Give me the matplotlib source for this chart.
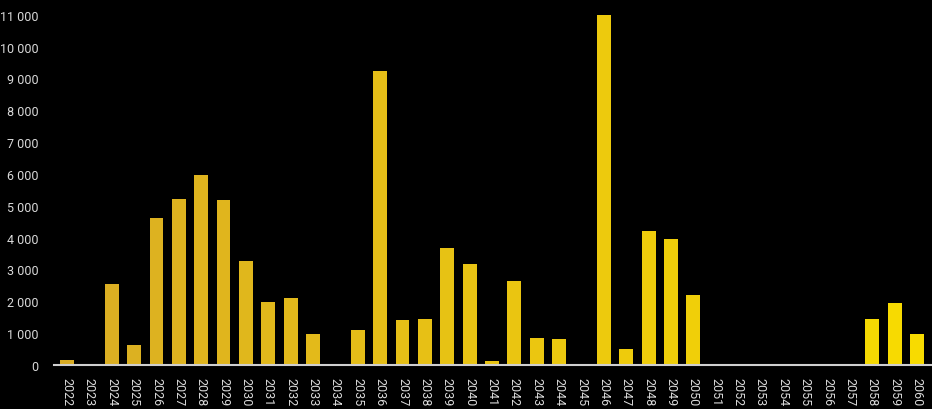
import numpy as np
import matplotlib
matplotlib.use('Agg')
import matplotlib.pyplot as plt
from matplotlib.colors import to_rgb
from matplotlib.ticker import FuncFormatter

# DATA
years = list(range(2022, 2061))
values = [
    170, 0, 2540, 620, 4620, 5200, 5980, 5170, 3270, 1980,   # 2022-2031
    2100, 970, 0, 1100, 9240, 1410, 1450, 3680, 3180, 130,    # 2032-2041
    2640, 840, 810, 0, 11000, 500, 4220, 3970, 2200, 0,       # 2042-2051
    0, 0, 0, 0, 0, 0, 1450, 1950, 970,                        # 2052-2060
]
y_ticks = list(range(0, 11001, 1000))

# STYLE
BG = '#000000'
TEXT = '#d9d9d9'
C_LEFT = np.array(to_rgb('#DAAD24'))
C_RIGHT = np.array(to_rgb('#F8DB00'))

plt.rcParams['font.family'] = ['Roboto', 'DejaVu Sans']

fig = plt.figure(figsize=(9.32, 4.10), dpi=100, facecolor=BG)
ax = fig.add_axes([54 / 932, 44 / 410, 1 - 54 / 932, 355 / 410])
ax.set_facecolor(BG)

x = np.arange(len(years))
t = x / (len(years) - 1)
colors = [tuple(C_LEFT + (C_RIGHT - C_LEFT) * ti) for ti in t]
ax.bar(x, values, width=0.62, color=colors, zorder=2)

ax.set_xlim(-0.58, len(years) - 0.33)
ax.set_ylim(0, 11150)
ax.set_xticks(x)
ax.set_xticklabels([str(y) for y in years], rotation=-90, color=TEXT, fontsize=9)
ax.set_yticks(y_ticks)
ax.yaxis.set_major_formatter(FuncFormatter(lambda v, p: f'{int(v):,}'.replace(',', ' ')))
ax.tick_params(axis='y', length=0, pad=11, labelcolor=TEXT, labelsize=9)
ax.tick_params(axis='x', length=0, pad=9)

for s in ['top', 'right', 'left']:
    ax.spines[s].set_visible(False)
ax.spines['bottom'].set_color('#cfcfcf')
ax.spines['bottom'].set_linewidth(1.5)
ax.spines['bottom'].set_zorder(3)

fig.savefig('out.png', dpi=100, facecolor=BG)
